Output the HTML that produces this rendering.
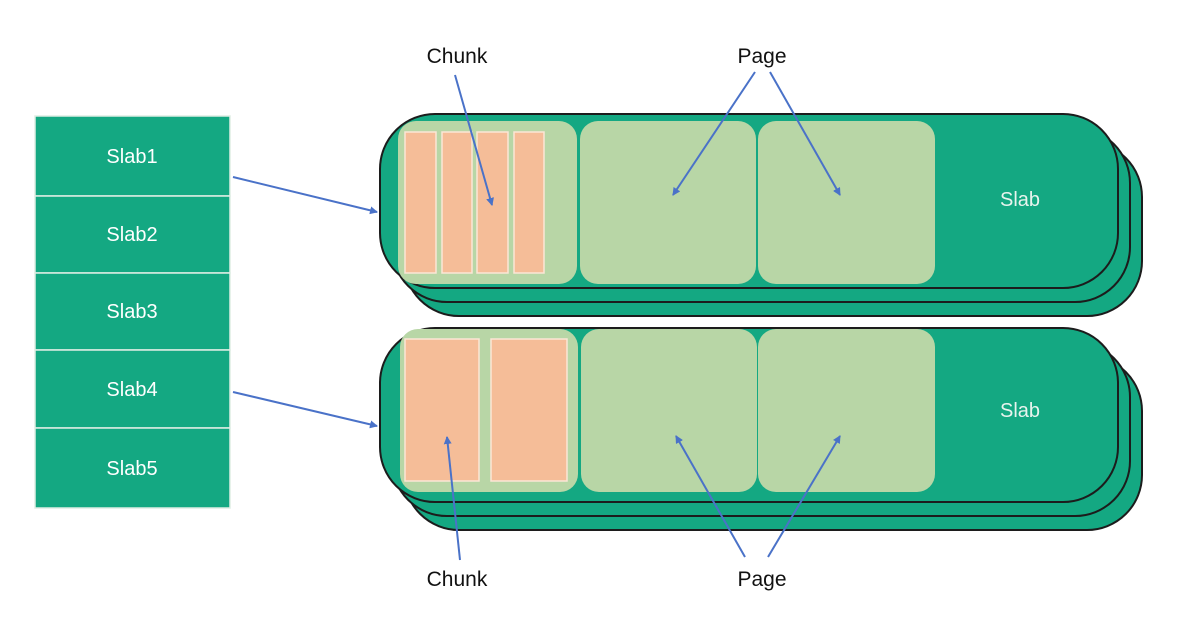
<!DOCTYPE html>
<html><head><style>body{margin:0;background:#fff}</style></head><body>
<svg width="1201" height="633" viewBox="0 0 1201 633" xmlns="http://www.w3.org/2000/svg" font-family="Liberation Sans, sans-serif">
<defs><marker id="a" markerWidth="8" markerHeight="8" refX="7" refY="4" orient="auto" markerUnits="userSpaceOnUse"><path d="M0,0 L8,4 L0,8 z" fill="#4a72c8"/></marker></defs>
<g stroke="#1c1c1c" stroke-width="2" fill="#14a882">
<rect x="404" y="142" width="738" height="174" rx="55"/>
<rect x="392" y="128" width="738" height="174" rx="55"/>
<rect x="380" y="114" width="738" height="174" rx="55"/>
<rect x="404" y="356" width="738" height="174" rx="55"/>
<rect x="392" y="342" width="738" height="174" rx="55"/>
<rect x="380" y="328" width="738" height="174" rx="55"/>
</g>
<g fill="#b8d6a6">
<rect x="398" y="121" width="179" height="163" rx="18"/>
<rect x="580" y="121" width="176" height="163" rx="18"/>
<rect x="758" y="121" width="177" height="163" rx="18"/>
<rect x="400" y="329" width="178" height="163" rx="18"/>
<rect x="581" y="329" width="176" height="163" rx="18"/>
<rect x="758" y="329" width="177" height="163" rx="18"/>
</g>
<g fill="#f5bd98" stroke="#fbe6d6" stroke-width="1.5">
<rect x="405" y="132" width="31" height="141"/>
<rect x="442" y="132" width="30" height="141"/>
<rect x="477" y="132" width="31" height="141"/>
<rect x="514" y="132" width="30" height="141"/>
<rect x="405" y="339" width="74" height="142"/>
<rect x="491" y="339" width="76" height="142"/>
</g>
<g fill="#e8f4ee" font-size="20" text-anchor="middle">
<text x="1020" y="206">Slab</text>
<text x="1020" y="417">Slab</text>
</g>
<g fill="#14a882" stroke="#dfeee4" stroke-width="1.5">
<rect x="35" y="116" width="195" height="80"/>
<rect x="35" y="196" width="195" height="77"/>
<rect x="35" y="273" width="195" height="77"/>
<rect x="35" y="350" width="195" height="78"/>
<rect x="35" y="428" width="195" height="80"/>
</g>
<g fill="#fff" font-size="20" text-anchor="middle">
<text x="132" y="163">Slab1</text>
<text x="132" y="241">Slab2</text>
<text x="132" y="318">Slab3</text>
<text x="132" y="396">Slab4</text>
<text x="132" y="475">Slab5</text>
</g>
<g fill="#111" font-size="21" text-anchor="middle">
<text x="457" y="63">Chunk</text>
<text x="762" y="63">Page</text>
<text x="457" y="586">Chunk</text>
<text x="762" y="586">Page</text>
</g>
<g stroke="#4a72c8" stroke-width="2" marker-end="url(#a)">
<line x1="233" y1="177" x2="377" y2="212"/>
<line x1="233" y1="392" x2="377" y2="426"/>
<line x1="455" y1="75" x2="492" y2="205"/>
<line x1="755" y1="72" x2="673" y2="195"/>
<line x1="770" y1="72" x2="840" y2="195"/>
<line x1="460" y1="560" x2="447" y2="437"/>
<line x1="745" y1="557" x2="676" y2="436"/>
<line x1="768" y1="557" x2="840" y2="436"/>
</g>
</svg>
</body></html>
